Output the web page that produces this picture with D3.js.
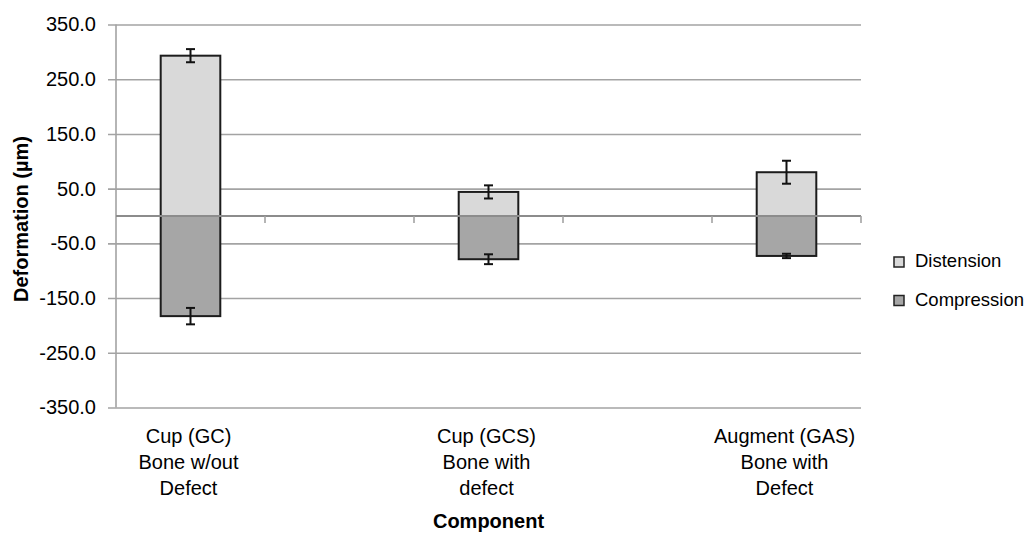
<!DOCTYPE html>
<html>
<head>
  <meta charset="utf-8">
  <title>Deformation by component</title>
  <script src="https://d3js.org/d3.v7.min.js"></script>
</head>
<style>
  body {
    margin: 0;
    background: #fff;
    font-family: "Liberation Sans", Arial, sans-serif;
  }
  .axis text {
    font-size: 20px;
    fill: #000;
  }
  .grid line {
    stroke: #a3a3a3;
    stroke-width: 1.6;
  }
</style>
<body>
  <svg id="chart"></svg>
  <script>
    // data (blank slots are empty categories in the original)
    const categories = [
      ["Cup (GC)", "Bone w/out", "Defect"],
      [],
      ["Cup (GCS)", "Bone with", "defect"],
      [],
      ["Augment (GAS)", "Bone with", "Defect"]
    ];
    const seriesNames = ["Distension", "Compression"];
    const distension = [293, null, 44, null, 80];
    const distensionErr = [12, null, 12, null, 21];
    const compression = [-183, null, -79, null, -73];
    const compressionErr = [15, null, 9, null, 4];
    const yTicks = [350, 250, 150, 50, -50, -150, -250, -350];
    const colors = ["#d9d9d9", "#a6a6a6"];

    const W = 1030, H = 534;
    const margin = { top: 24.5, right: 169, bottom: 126.5, left: 116 };
    const width = W - margin.left - margin.right;
    const height = H - margin.top - margin.bottom;

    const svg = d3.select("#chart")
      .attr("width", W)
      .attr("height", H);
    const g = svg.append("g")
      .attr("transform", "translate(" + margin.left + "," + margin.top + ")");

    const x = d3.scaleBand()
      .domain(d3.range(categories.length))
      .range([0, width])
      .paddingInner(0.6)
      .paddingOuter(0.3);
    const slot = width / categories.length;
    const y = d3.scaleLinear()
      .domain([-350, 350])
      .range([height, 0]);

    // gridlines + y labels (plain hyphen minus like the original)
    const yAxis = d3.axisLeft(y)
      .tickValues(yTicks)
      .tickSize(-width - 8)
      .tickFormat(d => d.toFixed(1));
    const yg = g.append("g")
      .attr("class", "axis grid")
      .attr("transform", "translate(-8,0)")
      .call(yAxis);
    yg.select(".domain").remove();
    yg.selectAll("text").attr("x", -12);

    // y axis line
    g.append("line")
      .attr("x1", 0).attr("x2", 0)
      .attr("y1", 0).attr("y2", height)
      .attr("stroke", "#a3a3a3")
      .attr("stroke-width", 1.6);

    // bars
    const stacks = [
      { key: 0, vals: distension, err: distensionErr },
      { key: 1, vals: compression, err: compressionErr }
    ];
    stacks.forEach(s => {
      const idx = d3.range(categories.length).filter(i => s.vals[i] != null);
      g.selectAll(".bar" + s.key)
        .data(idx)
        .join("rect")
        .attr("class", "bar" + s.key)
        .attr("x", i => x(i))
        .attr("width", x.bandwidth())
        .attr("y", i => y(Math.max(0, s.vals[i])))
        .attr("height", i => Math.abs(y(s.vals[i]) - y(0)))
        .attr("fill", colors[s.key])
        .attr("stroke", "#1c1c1c")
        .attr("stroke-width", 2);
    });

    // x axis at zero
    g.append("line")
      .attr("x1", 0).attr("x2", width)
      .attr("y1", y(0)).attr("y2", y(0))
      .attr("stroke", "#8c8c8c")
      .attr("stroke-width", 2);
    g.selectAll(".xtick")
      .data(d3.range(1, categories.length + 1))
      .join("line")
      .attr("class", "xtick")
      .attr("x1", i => i * slot).attr("x2", i => i * slot)
      .attr("y1", y(0)).attr("y2", y(0) + 7)
      .attr("stroke", "#a3a3a3")
      .attr("stroke-width", 1.6);

    // error bars
    stacks.forEach(s => {
      const idx = d3.range(categories.length).filter(i => s.vals[i] != null);
      const eb = g.selectAll(".err" + s.key)
        .data(idx)
        .join("g")
        .attr("class", "err" + s.key)
        .attr("transform", i => "translate(" + (x(i) + x.bandwidth() / 2) + ",0)")
        .attr("stroke", "#111")
        .attr("stroke-width", 2);
      eb.append("line")
        .attr("y1", i => y(s.vals[i] + s.err[i]))
        .attr("y2", i => y(s.vals[i] - s.err[i]));
      eb.append("line")
        .attr("x1", -4.5).attr("x2", 4.5)
        .attr("y1", i => y(s.vals[i] + s.err[i]))
        .attr("y2", i => y(s.vals[i] + s.err[i]));
      eb.append("line")
        .attr("x1", -4.5).attr("x2", 4.5)
        .attr("y1", i => y(s.vals[i] - s.err[i]))
        .attr("y2", i => y(s.vals[i] - s.err[i]));
    });

    // category labels
    const lab = g.selectAll(".cat")
      .data(d3.range(categories.length))
      .join("text")
      .attr("class", "cat")
      .attr("text-anchor", "middle")
      .attr("font-size", 20)
      .attr("fill", "#000")
      .attr("transform", i => "translate(" + (x(i) + x.bandwidth() / 2 - 2) + "," + (height + 35) + ")");
    lab.selectAll("tspan")
      .data(i => categories[i])
      .join("tspan")
      .attr("x", 0)
      .attr("dy", (d, j) => j === 0 ? 0 : 26)
      .text(d => d);

    // axis titles
    svg.append("text")
      .attr("x", margin.left + width / 2)
      .attr("y", 528)
      .attr("text-anchor", "middle")
      .attr("font-size", 20)
      .attr("font-weight", "bold")
      .attr("fill", "#000")
      .text("Component");
    svg.append("text")
      .attr("transform", "translate(28,219) rotate(-90)")
      .attr("text-anchor", "middle")
      .attr("font-size", 20)
      .attr("font-weight", "bold")
      .attr("fill", "#000")
      .text("Deformation (µm)");

    // legend
    const legend = svg.selectAll(".legend")
      .data(seriesNames)
      .join("g")
      .attr("class", "legend")
      .attr("transform", (d, i) => "translate(894," + (257 + i * 38.5) + ")");
    legend.append("rect")
      .attr("width", 10)
      .attr("height", 10)
      .attr("fill", (d, i) => colors[i])
      .attr("stroke", "#222")
      .attr("stroke-width", 1.5);
    legend.append("text")
      .attr("x", 21)
      .attr("y", 10)
      .attr("font-size", 18.5)
      .attr("fill", "#000")
      .text(d => d);
  </script>
</body>
</html>
